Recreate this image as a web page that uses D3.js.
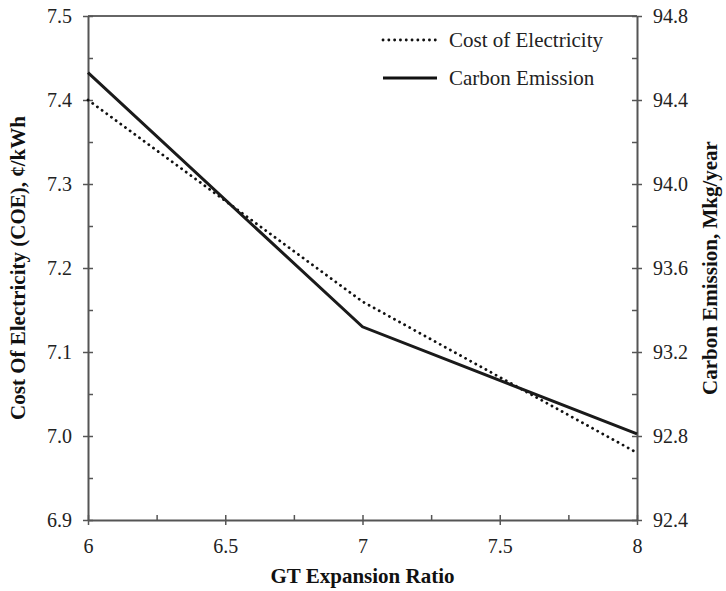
<!DOCTYPE html>
<html>
<head>
<meta charset="utf-8">
<script src="https://cdn.jsdelivr.net/npm/d3@7"></script>
<style>
  html, body { margin: 0; padding: 0; background: #fff; }
  svg { display: block; }
  svg text { font-family: "Liberation Serif", "Times New Roman", Times, serif; }
</style>
</head>
<body>
<svg id="chart" width="726" height="591"></svg>
<script>
// GT expansion ratio vs. cost of electricity and carbon emission
const expansionRatio = [6, 7, 8];
const costOfElectricity = [7.40, 7.16, 6.98];   // ¢/kWh
const carbonEmission = [94.53, 93.32, 92.81];   // Mkg/year

const xTicks = [6, 6.5, 7, 7.5, 8];
const xTickLabels = ["6", "6.5", "7", "7.5", "8"];
const xMinor = [6.25, 6.75, 7.25, 7.75];
const leftTicks = [6.9, 7.0, 7.1, 7.2, 7.3, 7.4, 7.5];
const leftTickLabels = ["6.9", "7.0", "7.1", "7.2", "7.3", "7.4", "7.5"];
const leftMinor = [6.95, 7.05, 7.15, 7.25, 7.35, 7.45];
const rightTicks = [92.4, 92.8, 93.2, 93.6, 94.0, 94.4, 94.8];
const rightTickLabels = ["92.4", "92.8", "93.2", "93.6", "94.0", "94.4", "94.8"];
const rightMinor = [92.6, 93.0, 93.4, 93.8, 94.2, 94.6];

const seriesNames = ["Cost of Electricity", "Carbon Emission"];

const svg = d3.select("#chart");
const plot = { left: 88, right: 637, top: 16, bottom: 520 };

const x = d3.scaleLinear().domain([6, 8]).range([plot.left, plot.right]);
const yL = d3.scaleLinear().domain([6.9, 7.5]).range([plot.bottom, plot.top]);
const yR = d3.scaleLinear().domain([92.4, 94.8]).range([plot.bottom, plot.top]);

const axisColor = "#555";
const tickFont = 20;
const legendFont = 21;
const titleFont = 21;

// top border
svg.append("line")
  .attr("x1", plot.left).attr("x2", plot.right)
  .attr("y1", plot.top).attr("y2", plot.top)
  .attr("stroke", "#333").attr("stroke-width", 1.5);

function styleAxis(g) {
  g.attr("font-family", null);
  g.select(".domain").attr("stroke", axisColor).attr("stroke-width", 2);
  g.selectAll(".tick line").attr("stroke", axisColor).attr("stroke-width", 1.5);
  g.selectAll(".tick text").attr("fill", "#222").attr("font-size", tickFont);
}

// bottom axis: major ticks cross the axis, minor ticks point inward
const gx = svg.append("g").attr("transform", `translate(0,${plot.bottom})`)
  .call(d3.axisBottom(x).tickValues(xTicks)
    .tickFormat((d, i) => xTickLabels[i]).tickSize(5).tickSizeOuter(0).tickPadding(14));
gx.selectAll(".tick line").attr("y1", -5).attr("y2", 5);
styleAxis(gx);
const gxm = svg.append("g").attr("transform", `translate(0,${plot.bottom})`)
  .call(d3.axisBottom(x).tickValues(xMinor).tickFormat("").tickSize(-5).tickSizeOuter(0));
gxm.select(".domain").remove();
styleAxis(gxm);

// left axis (COE)
const gl = svg.append("g").attr("transform", `translate(${plot.left},0)`)
  .call(d3.axisLeft(yL).tickValues(leftTicks)
    .tickFormat((d, i) => leftTickLabels[i]).tickSize(5).tickSizeOuter(0).tickPadding(11));
gl.selectAll(".tick line").attr("x1", 5).attr("x2", -5);
styleAxis(gl);
const glm = svg.append("g").attr("transform", `translate(${plot.left},0)`)
  .call(d3.axisLeft(yL).tickValues(leftMinor).tickFormat("").tickSize(-5).tickSizeOuter(0));
glm.select(".domain").remove();
styleAxis(glm);

// right axis (carbon emission)
const gr = svg.append("g").attr("transform", `translate(${plot.right},0)`)
  .call(d3.axisRight(yR).tickValues(rightTicks)
    .tickFormat((d, i) => rightTickLabels[i]).tickSize(5).tickSizeOuter(0).tickPadding(11));
gr.selectAll(".tick line").attr("x1", -5).attr("x2", 5);
styleAxis(gr);
const grm = svg.append("g").attr("transform", `translate(${plot.right},0)`)
  .call(d3.axisRight(yR).tickValues(rightMinor).tickFormat("").tickSize(-5).tickSizeOuter(0));
grm.select(".domain").remove();
styleAxis(grm);

// series lines
const coeLine = d3.line().x((d, i) => x(expansionRatio[i])).y(d => yL(d));
const carbonLine = d3.line().x((d, i) => x(expansionRatio[i])).y(d => yR(d));

const dotted = { dash: "0.1 5.7", width: 2.8, cap: "round" };

svg.append("path").datum(costOfElectricity)
  .attr("d", coeLine).attr("fill", "none").attr("stroke", "#111")
  .attr("stroke-width", dotted.width).attr("stroke-dasharray", dotted.dash)
  .attr("stroke-linecap", dotted.cap);

svg.append("path").datum(carbonEmission)
  .attr("d", carbonLine).attr("fill", "none").attr("stroke", "#1a1a1a")
  .attr("stroke-width", 3).attr("stroke-linejoin", "miter");

// legend
const legend = svg.append("g");
const legendRows = [
  { name: seriesNames[0], y: 40, dash: dotted.dash, width: dotted.width, cap: "round" },
  { name: seriesNames[1], y: 78, dash: null, width: 3, cap: "butt" }
];
legendRows.forEach(r => {
  legend.append("line")
    .attr("x1", 383).attr("x2", 437).attr("y1", r.y).attr("y2", r.y)
    .attr("stroke", "#111").attr("stroke-width", r.width)
    .attr("stroke-dasharray", r.dash).attr("stroke-linecap", r.cap);
  legend.append("text")
    .attr("x", 449).attr("y", r.y).attr("dy", "0.35em")
    .attr("font-size", legendFont).attr("fill", "#222").text(r.name);
});

// axis titles
svg.append("text")
  .attr("x", (plot.left + plot.right) / 2).attr("y", 583)
  .attr("text-anchor", "middle").attr("font-weight", "bold")
  .attr("font-size", titleFont).attr("fill", "#111").text("GT Expansion Ratio");

svg.append("text")
  .attr("transform", `translate(18,${(plot.top + plot.bottom) / 2}) rotate(-90)`)
  .attr("text-anchor", "middle").attr("dy", "0.35em").attr("font-weight", "bold")
  .attr("font-size", titleFont).attr("fill", "#111").text("Cost Of Electricity (COE), ¢/kWh");

svg.append("text")
  .attr("transform", `translate(710,${(plot.top + plot.bottom) / 2}) rotate(-90)`)
  .attr("text-anchor", "middle").attr("dy", "0.35em").attr("font-weight", "bold")
  .attr("font-size", titleFont).attr("fill", "#111").text("Carbon Emission, Mkg/year");
</script>
</body>
</html>
